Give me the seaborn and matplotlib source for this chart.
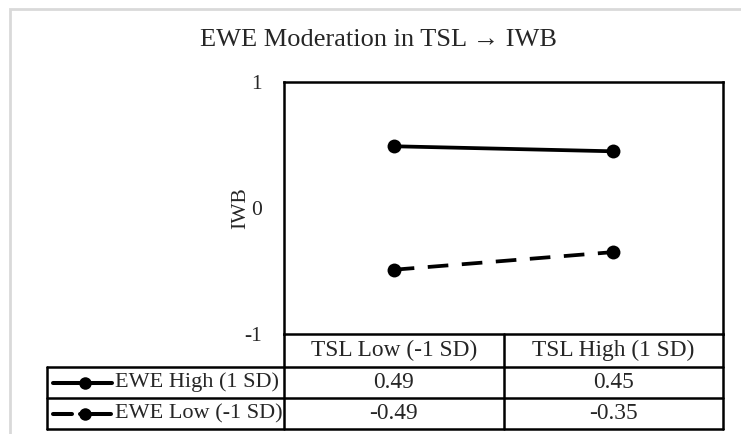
import numpy as np
import pandas as pd
import seaborn as sns
import matplotlib.pyplot as plt
from matplotlib.lines import Line2D
from matplotlib.patches import Rectangle

# data
categories = ["TSL Low (-1 SD)", "TSL High (1 SD)"]
series_names = ["EWE High (1 SD)", "EWE Low (-1 SD)"]
ewe_high = [0.49, 0.45]
ewe_low = [-0.49, -0.35]
y_ticks = [-1, 0, 1]

W, H = 741, 434

sns.set_theme(style="white")
plt.rcParams['font.family'] = ['Liberation Serif', 'DejaVu Serif']

df = pd.DataFrame({
    "x": categories * 2,
    "y": ewe_high + ewe_low,
    "series": [series_names[0]] * 2 + [series_names[1]] * 2,
})

fig = plt.figure(figsize=(W / 100, H / 100), dpi=100)


def fx(px):
    return px / W


def fy(py):
    return 1 - py / H


# axes box in pixels
L, R, T, B = 284, 723, 82, 334
ax = fig.add_axes([fx(L), fy(B), fx(R - L), (B - T) / H])

sns.lineplot(data=df, x="x", y="y", style="series", markers={series_names[0]: "o", series_names[1]: "o"},
             dashes={series_names[0]: "", series_names[1]: (5.5, 3.6)}, color="black",
             linewidth=2.7, markersize=10, markeredgewidth=0, sort=False, legend=False, ax=ax)

ax.set_xlim(-0.5, 1.5)
ax.set_ylim(-1, 1)
ax.set_yticks(y_ticks)
ax.set_yticklabels([str(v) for v in y_ticks], fontsize=15.5)
ax.set_xticks([])
ax.set_xlabel("")
ax.set_ylabel("IWB", fontsize=15.5)
ax.yaxis.set_label_coords(-(L - 250) / (R - L), 0.5)
ax.tick_params(axis="y", length=0, pad=16)
for s in ax.spines.values():
    s.set_color("black")
    s.set_linewidth(1.8)

# title
fig.text(fx(378), fy(40), "EWE Moderation in TSL \u2192 IWB", ha="center", va="center", fontsize=19)

# outer light frame (only top and left edges visible)
fig.add_artist(Rectangle((fx(10), fy(H + 40)), fx(W + 60), (H + 31) / H, transform=fig.transFigure,
                         fill=False, edgecolor="#d9d9d9", linewidth=2))

# data table below the axes
cols = [L, (L + R) / 2, R]
rows = [B, 367, 398, 429]
lw = 1.8


def hline(y, x0, x1):
    fig.add_artist(Line2D([fx(x0), fx(x1)], [fy(y), fy(y)], color="black", lw=lw, transform=fig.transFigure))


def vline(x, y0, y1):
    fig.add_artist(Line2D([fx(x), fx(x)], [fy(y0), fy(y1)], color="black", lw=lw, transform=fig.transFigure))


tab_left = 47
hline(rows[1], tab_left, R)
hline(rows[2], tab_left, R)
hline(rows[3], tab_left, R)
vline(tab_left, rows[1], rows[3])
vline(L, rows[0], rows[3])
vline(cols[1], rows[0], rows[3])
vline(R, rows[0], rows[3])

for i, c in enumerate(categories):
    cx = (cols[i] + cols[i + 1]) / 2
    fig.text(fx(cx), fy((rows[0] + rows[1]) / 2), c, ha="center", va="center", fontsize=16.8)

values = [ewe_high, ewe_low]
for r, (name, vals) in enumerate(zip(series_names, values)):
    cy = (rows[r + 1] + rows[r + 2]) / 2
    for i, v in enumerate(vals):
        cx = (cols[i] + cols[i + 1]) / 2
        fig.text(fx(cx), fy(cy), f"{v:.2f}", ha="center", va="center", fontsize=16.8)
    fig.text(fx(115), fy(cy), name, ha="left", va="center", fontsize=16)
    # legend key
    if r == 0:
        fig.add_artist(Line2D([fx(53), fx(112)], [fy(cy), fy(cy)], color="black", lw=2.9,
                              transform=fig.transFigure))
    else:
        fig.add_artist(Line2D([fx(53), fx(72)], [fy(cy), fy(cy)], color="black", lw=2.9,
                              solid_capstyle="round", transform=fig.transFigure))
        fig.add_artist(Line2D([fx(80), fx(111)], [fy(cy), fy(cy)], color="black", lw=2.9,
                              solid_capstyle="round", transform=fig.transFigure))
    fig.add_artist(Line2D([fx(84.5)], [fy(cy)], color="black", marker="o", markersize=9,
                          markeredgewidth=0, transform=fig.transFigure))

fig.savefig("out.png", dpi=100)
